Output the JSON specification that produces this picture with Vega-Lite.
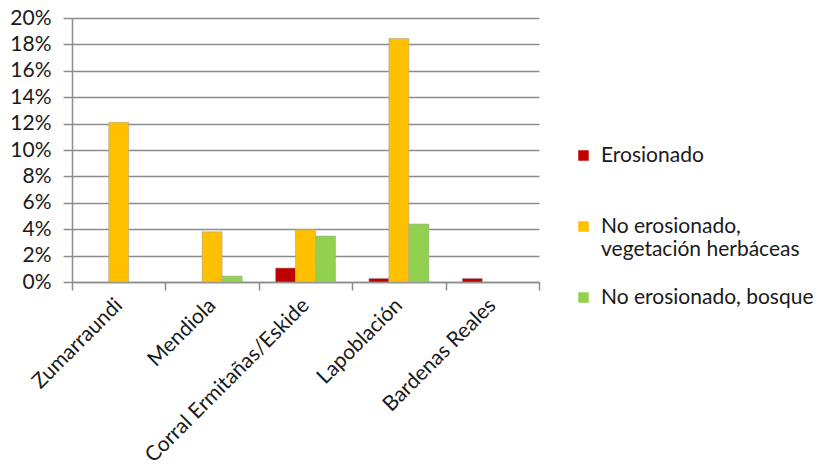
{
  "$schema": "https://vega.github.io/schema/vega-lite/v6.json",
  "width": 467,
  "height": 264,
  "autosize": {"type": "none"},
  "padding": {"left": 72, "top": 18, "right": 280, "bottom": 192},
  "background": "white",
  "data": {
    "values": [
      {"sitio": "Zumarraundi", "clase": "No erosionado, vegetación herbáceas", "valor": 0.121},
      {"sitio": "Mendiola", "clase": "No erosionado, vegetación herbáceas", "valor": 0.038},
      {"sitio": "Mendiola", "clase": "No erosionado, bosque", "valor": 0.0045},
      {"sitio": "Corral Ermitañas/Eskide", "clase": "Erosionado", "valor": 0.0106},
      {"sitio": "Corral Ermitañas/Eskide", "clase": "No erosionado, vegetación herbáceas", "valor": 0.0396},
      {"sitio": "Corral Ermitañas/Eskide", "clase": "No erosionado, bosque", "valor": 0.0348},
      {"sitio": "Lapoblación", "clase": "Erosionado", "valor": 0.0027},
      {"sitio": "Lapoblación", "clase": "No erosionado, vegetación herbáceas", "valor": 0.1845},
      {"sitio": "Lapoblación", "clase": "No erosionado, bosque", "valor": 0.0439},
      {"sitio": "Bardenas Reales", "clase": "Erosionado", "valor": 0.0027}
    ]
  },
  "mark": {"type": "bar", "stroke": "#a6a6a6", "strokeWidth": 0.6},
  "encoding": {
    "x": {
      "field": "sitio",
      "type": "nominal",
      "sort": ["Zumarraundi", "Mendiola", "Corral Ermitañas/Eskide", "Lapoblación", "Bardenas Reales"],
      "scale": {"paddingInner": 0, "paddingOuter": 0},
      "axis": {
        "title": null,
        "labelAngle": -45,
        "labelAlign": "right",
        "labelBaseline": "middle",
        "labelPadding": 12,
        "tickBand": "extent",
        "tickSize": 8,
        "tickColor": "#8c8c8c",
        "tickWidth": 1.5,
        "domainColor": "#8c8c8c",
        "domainWidth": 1.5,
        "labelFont": "Lato",
        "labelFontSize": 21,
        "labelColor": "#1a1a1a",
        "labelLimit": 400
      }
    },
    "xOffset": {
      "field": "clase",
      "type": "nominal",
      "sort": ["Erosionado", "No erosionado, vegetación herbáceas", "No erosionado, bosque"],
      "scale": {"paddingInner": 0, "paddingOuter": 0.835}
    },
    "y": {
      "field": "valor",
      "type": "quantitative",
      "scale": {"domain": [0, 0.2], "nice": false},
      "axis": {
        "title": null,
        "format": ".0%",
        "values": [0, 0.02, 0.04, 0.06, 0.08, 0.1, 0.12, 0.14, 0.16, 0.18, 0.2],
        "grid": true,
        "gridColor": "#8c8c8c",
        "gridWidth": 1.5,
        "tickSize": 9,
        "tickColor": "#8c8c8c",
        "tickWidth": 1.5,
        "domainColor": "#8c8c8c",
        "domainWidth": 1.5,
        "labelPadding": 12,
        "labelFont": "Lato",
        "labelFontSize": 21,
        "labelColor": "#1a1a1a"
      }
    },
    "color": {
      "field": "clase",
      "type": "nominal",
      "scale": {
        "domain": ["Erosionado", "No erosionado, vegetación herbáceas", "No erosionado, bosque"],
        "range": ["#c00000", "#ffc000", "#92d050"]
      },
      "legend": {
        "title": null,
        "orient": "none",
        "legendX": 501,
        "legendY": 127,
        "symbolType": "square",
        "symbolSize": 110,
        "symbolStrokeWidth": 0,
        "labelFont": "Lato",
        "labelFontSize": 21,
        "labelColor": "#1a1a1a",
        "labelOffset": 7,
        "labelLimit": 400,
        "rowPadding": 26,
        "labelExpr": "datum.label == 'No erosionado, vegetación herbáceas' ? ['No erosionado,', 'vegetación herbáceas'] : datum.label == 'Erosionado' ? ['Erosionado', ''] : datum.label"
      }
    }
  },
  "config": {"view": {"stroke": null}}
}
